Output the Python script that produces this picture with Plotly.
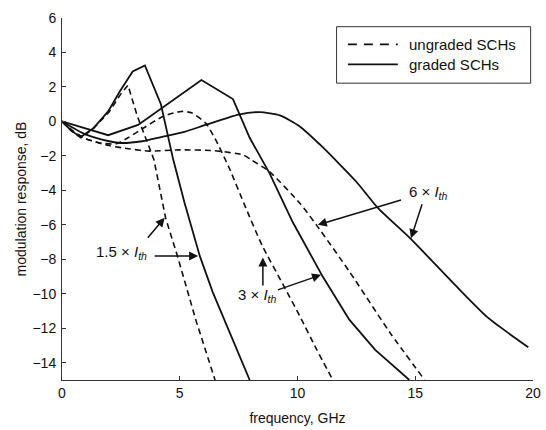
import plotly.graph_objects as go

# ---- data (frequency in GHz, response in dB) ----
f_ug15 = [0, 0.4, 0.8, 1.3, 2.0, 2.5, 2.8, 3.2, 3.9, 4.4, 4.9, 5.7, 6.5]
v_ug15 = [0, -0.55, -0.95, -0.45, 0.55, 1.6, 2.1, 0.3, -2.2, -5.6, -7.8, -11.6, -15.0]

f_g15 = [0, 0.4, 0.8, 1.33, 1.96, 2.46, 3.0, 3.52, 4.2, 4.72, 5.2, 5.42, 5.85, 6.4, 6.9, 7.97]
v_g15 = [0, -0.55, -0.9, -0.4, 0.58, 1.75, 2.9, 3.25, 1.0, -2.2, -4.7, -5.8, -7.8, -9.9, -11.5, -15.0]

f_ug3 = [0, 0.5, 1.0, 1.6, 2.3, 2.8, 3.5, 4.3, 5.07, 5.5, 6.1, 6.5, 7.1, 7.8, 8.5, 9.4, 10.1, 10.8, 11.5]
v_ug3 = [0, -0.6, -1.0, -1.25, -1.3, -0.95, -0.35, 0.3, 0.58, 0.5, -0.1, -1.0, -2.7, -5.0, -7.2, -9.5, -11.3, -13.2, -15.0]

f_g3 = [0, 1.96, 3.23, 4.15, 5.92, 7.26, 7.97, 8.81, 9.8, 11.07, 12.2, 13.3, 14.75]
v_g3 = [0, -0.8, -0.2, 0.7, 2.4, 1.3, -0.95, -3.0, -5.85, -9.0, -11.5, -13.25, -15.0]

f_ug6 = [0, 0.5, 1.0, 2.0, 2.9, 3.7, 5.0, 6.5, 7.7, 8.0, 8.8, 10.1, 10.8, 12.2, 13.9, 15.4]
v_ug6 = [0, -0.6, -1.0, -1.4, -1.6, -1.72, -1.65, -1.7, -1.95, -2.2, -2.9, -4.75, -6.0, -8.7, -12.2, -15.0]

f_g6 = [0, 1.0, 2.0, 2.5, 3.4, 4.4, 5.2, 6.1, 7.5, 8.4, 9.26, 10.1, 10.96, 11.8, 12.5, 13.4, 14.8, 16.7, 18.1, 19.8]
v_g6 = [0, -0.75, -1.15, -1.25, -1.15, -0.85, -0.6, -0.2, 0.4, 0.54, 0.35, -0.29, -1.35, -2.5, -3.5, -5.0, -6.8, -9.5, -11.4, -13.1]

x_ticks = [0, 5, 10, 15, 20]
y_ticks = [-14, -12, -10, -8, -6, -4, -2, 0, 2, 4, 6]
legend_labels = ["ungraded SCHs", "graded SCHs"]

INK = "#111111"
DASH = "6px,4px"
LEG_DASH = "9px,7px"
FONT = "Liberation Sans, Arial, Helvetica, sans-serif"

fig = go.Figure()
for f, v, dashed, shape in [(f_ug15, v_ug15, True, "linear"),
                            (f_g15, v_g15, False, "linear"),
                            (f_ug3, v_ug3, True, "spline"),
                            (f_g3, v_g3, False, "linear"),
                            (f_ug6, v_ug6, True, "spline"),
                            (f_g6, v_g6, False, "spline")]:
    fig.add_trace(go.Scatter(
        x=f, y=v, mode="lines", showlegend=False, hoverinfo="skip",
        line=dict(color=INK, width=1.6 if dashed else 1.8,
                  dash=DASH if dashed else "solid",
                  shape=shape, smoothing=0.6),
        cliponaxis=True))

# labels and arrows
lab_font = dict(family=FONT, size=15, color=INK)
fig.add_annotation(x=2.54, y=-7.6, text="1.5 × <i>I</i><sub><i>th</i></sub>",
                   showarrow=False, font=lab_font)
fig.add_annotation(x=8.3, y=-10.1, text="3 × <i>I</i><sub><i>th</i></sub>",
                   showarrow=False, font=lab_font)
fig.add_annotation(x=15.55, y=-4.1, text="6 × <i>I</i><sub><i>th</i></sub>",
                   showarrow=False, font=lab_font)

arrows = [
    ((3.59, -6.84), (4.36, -5.59)),
    ((3.87, -7.8), (5.78, -7.8)),
    ((8.53, -9.6), (8.53, -7.9)),
    ((9.1, -9.8), (11.0, -8.9)),
    ((14.46, -4.53), (10.86, -6.0)),
    ((15.31, -4.72), (14.82, -6.78)),
]
for (tx, ty), (hx, hy) in arrows:
    fig.add_annotation(x=hx, y=hy, ax=tx, ay=ty, axref="x", ayref="y",
                       xref="x", yref="y", text="", showarrow=True,
                       arrowhead=2, arrowsize=1.2, arrowwidth=1.5,
                       arrowcolor=INK, standoff=0, startstandoff=0)

# manual legend box (paper coordinates)
fig.add_shape(type="rect", xref="paper", yref="paper",
              x0=0.583, x1=0.995, y0=0.82, y1=0.976,
              line=dict(color="#333333", width=1), fillcolor="white")
for lbl, dashed, yy in zip(legend_labels, [True, False], [0.927, 0.872]):
    fig.add_shape(type="line", xref="paper", yref="paper",
                  x0=0.607, x1=0.713, y0=yy, y1=yy,
                  line=dict(color=INK, width=1.8,
                            dash=LEG_DASH if dashed else "solid"))
    fig.add_annotation(xref="paper", yref="paper", x=0.732, y=yy,
                       text=lbl, showarrow=False, xanchor="left",
                       yanchor="middle",
                       font=dict(family=FONT, size=15, color=INK))

axis_common = dict(showline=True, linecolor="#333333", linewidth=1,
                   ticks="inside", ticklen=4, tickcolor="#333333",
                   showgrid=False, zeroline=False, mirror=False,
                   automargin=False,
                   tickfont=dict(family=FONT, size=14, color=INK))

fig.update_layout(
    width=546, height=430,
    margin=dict(l=62, r=13, t=18, b=50),
    paper_bgcolor="white", plot_bgcolor="white",
    font=dict(family=FONT, color=INK),
    xaxis=dict(range=[0, 20], tickvals=x_ticks, ticklabelstandoff=0,
               title=dict(text="frequency, GHz", standoff=13,
                          font=dict(family=FONT, size=14, color=INK)),
               **axis_common),
    yaxis=dict(range=[-15, 6], tickvals=y_ticks, ticklabelstandoff=2,
               title=dict(text="modulation response, dB", standoff=2,
                          font=dict(family=FONT, size=14, color=INK)),
               **axis_common),
)

fig.write_html("out.html")
